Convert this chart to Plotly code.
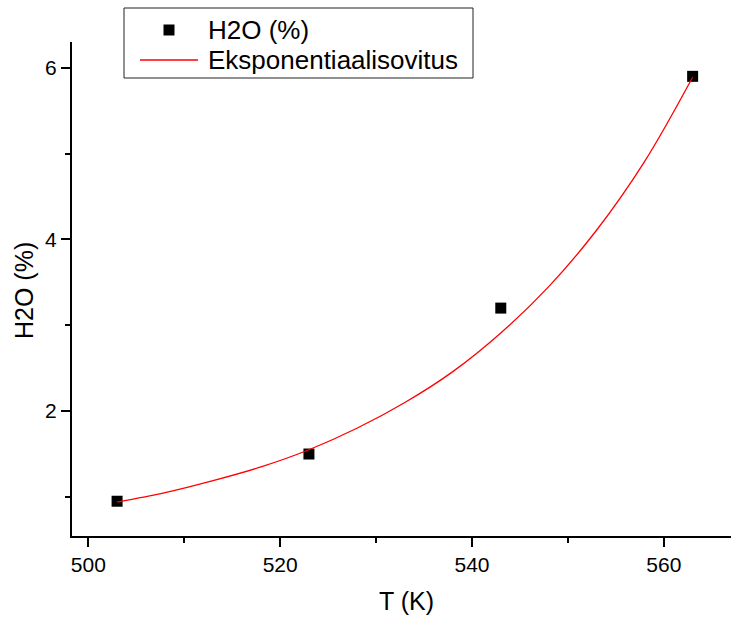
import plotly.graph_objects as go

# Measured data
temperature_K = [503, 523, 543, 563]
h2o_percent = [0.95, 1.50, 3.20, 5.90]

# Exponential fit curve
fit_T = [503, 508, 513, 518, 523, 528, 533, 538, 543, 548, 553, 558, 563]
fit_h2o = [0.94, 1.05, 1.19, 1.35, 1.55, 1.80, 2.10, 2.46, 2.91, 3.45, 4.11, 4.91, 5.89]

x_ticks = [500, 520, 540, 560]
y_ticks = [2, 4, 6]

series_names = ["H2O (%)", "Eksponentiaalisovitus"]
x_title = "T (K)"
y_title = "H2O (%)"

FONT = "Liberation Sans, Arial, sans-serif"
W, H = 732, 619
L, R, T, B = 72, 1, 42, 83
PW, PH = W - L - R, H - T - B


def px(x):
    return (x - L) / PW


def py(y):
    return (H - B - y) / PH


fig = go.Figure()
fig.add_trace(go.Scatter(
    x=temperature_K, y=h2o_percent, mode="markers", name=series_names[0],
    marker=dict(symbol="square", size=11, color="black"),
))
fig.add_trace(go.Scatter(
    x=fit_T, y=fit_h2o, mode="lines", name=series_names[1],
    line=dict(color="red", width=1.3, shape="spline"),
))

shapes = [
    # legend frame
    dict(type="rect", xref="paper", yref="paper", x0=px(124), x1=px(473), y0=py(78), y1=py(8),
         line=dict(color="#222", width=1), fillcolor="white", layer="above"),
    # legend marker swatch
    dict(type="rect", xref="paper", yref="paper", x0=px(163.5), x1=px(174.5), y0=py(35.5), y1=py(24.5),
         line=dict(width=0), fillcolor="black", layer="above"),
    # legend line swatch
    dict(type="line", xref="paper", yref="paper", x0=px(140), x1=px(198), y0=py(60), y1=py(60),
         line=dict(color="red", width=1.3), layer="above"),
]

annotations = [
    dict(text=series_names[0], xref="paper", yref="paper", x=px(206), y=py(30),
         xanchor="left", yanchor="middle", showarrow=False, font=dict(size=26)),
    dict(text=series_names[1], xref="paper", yref="paper", x=px(206), y=py(60),
         xanchor="left", yanchor="middle", showarrow=False, font=dict(size=26)),
    dict(text=x_title, xref="paper", yref="paper", x=px(406), y=py(601),
         xanchor="center", yanchor="middle", showarrow=False, font=dict(size=25)),
    dict(text=y_title, xref="paper", yref="paper", x=px(24), y=py(291), textangle=-90,
         xanchor="center", yanchor="middle", showarrow=False, font=dict(size=25)),
]

fig.update_layout(
    width=W, height=H,
    margin=dict(l=L, r=R, t=T, b=B, autoexpand=False),
    paper_bgcolor="white", plot_bgcolor="white",
    font=dict(family=FONT, color="black", size=21),
    showlegend=False,
    shapes=shapes,
    annotations=annotations,
)
fig.update_xaxes(
    range=[498.3, 567.0], tickvals=x_ticks, ticks="outside", ticklen=9, tickwidth=1.5,
    tickcolor="black", showline=True, linecolor="black", linewidth=2,
    showgrid=False, zeroline=False, tickfont=dict(size=21),
    minor=dict(dtick=10, tick0=500, ticks="outside", ticklen=5, tickwidth=1.5, tickcolor="black", showgrid=False),
)
fig.update_yaxes(
    range=[0.545, 6.30], tickvals=y_ticks, ticks="outside", ticklen=9, tickwidth=1.5,
    tickcolor="black", showline=True, linecolor="black", linewidth=2,
    showgrid=False, zeroline=False, tickfont=dict(size=21),
    minor=dict(dtick=1, tick0=0, ticks="outside", ticklen=5, tickwidth=1.5, tickcolor="black", showgrid=False),
)

fig.write_html(
    "out.html",
    config={"displayModeBar": False},
    post_script="document.body.style.margin='0';document.body.style.overflow='hidden';",
)
